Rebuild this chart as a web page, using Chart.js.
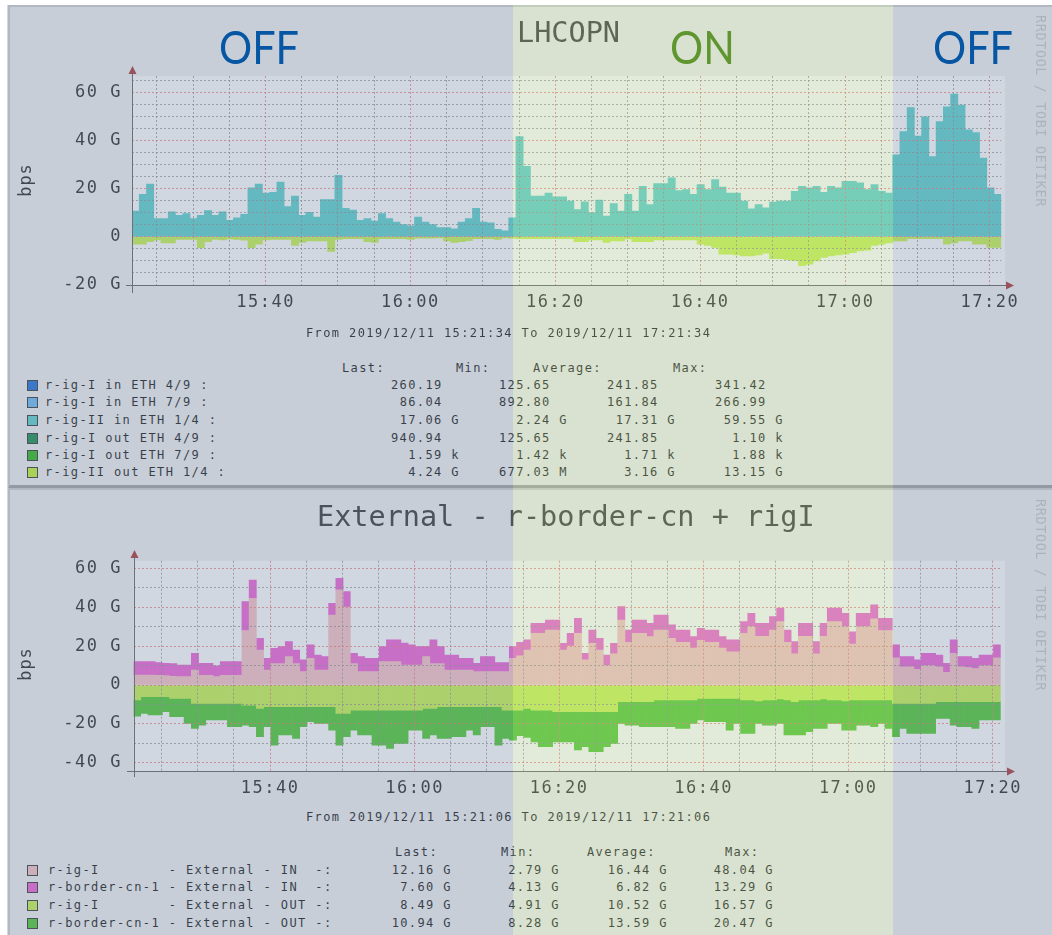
<!DOCTYPE html>
<html><head><meta charset="utf-8">
<script src="https://cdn.jsdelivr.net/npm/chart.js@4.4.1/dist/chart.umd.min.js"></script>
<style>
html,body{margin:0;padding:0}
body{width:1052px;height:935px;position:relative;overflow:hidden;background:#fff}
.panel{position:absolute;left:8px;width:1050px;background:#f0f0f0;box-sizing:border-box}
#p1{top:5px;height:483px;border-left:2px solid #cbcbcb;border-top:2px solid #cbcbcb;border-bottom:3px solid #999}
#p2{top:488px;height:450px;border-left:2px solid #cbcbcb;border-top:2px solid #cbcbcb}
canvas{position:absolute;left:0}
.tx{position:absolute;white-space:pre;font-family:"DejaVu Sans Mono",monospace;color:#000;line-height:1}
.lg{font-size:12px;letter-spacing:1.4px}
.ttl{font-size:28.5px;color:#222}
.ax{font-size:17px;letter-spacing:1px;color:#111}
.wm{font-size:13.5px;letter-spacing:0.6px;color:#c4c4c4}
.sw{position:absolute;width:9px;height:9px;border:1px solid #222}
.ov{position:absolute;top:5px;height:930px}
.big{position:absolute;font-family:Lato,"Open Sans",sans-serif;font-size:46px;line-height:1;white-space:pre;transform:scaleX(0.9);transform-origin:0 0}
</style></head>
<body>
<div class="panel" id="p1"></div>
<div class="panel" id="p2"></div>
<canvas id="c1" width="1052" height="330" style="top:0"></canvas>
<canvas id="c2" width="1052" height="320" style="top:490px"></canvas>
<div id="texts"></div>
<div class="ov" style="left:7px;width:506px;background:rgba(138,155,180,0.4)"></div>
<div class="ov" style="left:513px;width:380px;background:rgba(182,205,160,0.4)"></div>
<div class="ov" style="left:893px;width:159px;background:rgba(138,155,180,0.4)"></div>
<div id="labels"></div>
<script>
// ---------------- DATA ----------------
// minutes after 15:00
const topStart = 21 + 34/60;   // 15:21:34
const botStart = 21 + 6/60;    // 15:21:06

// x grid (minutes after 15:00) and labelled ticks
const xGridMinutes = [25,30,35,40,45,50,55,60,65,70,75,80,85,90,95,100,105,110,115,120,125,130,135,140];
const xLabelMinutes = [40,60,80,100,120,140];
const xLabelText = ['15:40','16:00','16:20','16:40','17:00','17:20'];

const topYGrid = [-20,-15,-10,-5,0,5,10,15,20,25,30,35,40,45,50,55,60,65];
const topYLabelValues = [-20,0,20,40,60];
const topYLabelText = ['-20 G','0','20 G','40 G','60 G'];

const botYGrid = [-40,-30,-20,-10,0,10,20,30,40,50,60];
const botYLabelValues = [-40,-20,0,20,40,60];
const botYLabelText = ['-40 G','-20 G','0','20 G','40 G','60 G'];

// Top graph: r-ig-II in ETH 1/4 (Gbps, 1-min steps)
const rigII_in_eth14 = [10.8,17.7,22,7.6,7.6,10.5,9,9.7,7.6,9,
11,9,10.5,6.9,8,9.4,20.4,22,18.3,18.6,
22.8,12.6,17,9,10.3,8.3,15.6,15.6,25.7,11.9,
11.2,6.9,7.6,6.6,9.7,7.6,6.2,5.2,4.6,8.3,
6.2,5.2,3.9,3.9,3.4,6.2,7.6,11.9,6.2,5.9,
3.2,2.6,8,41.8,29.4,17,17,18.3,16.7,16.7,
14.9,11.4,14.6,10,15.3,8.7,13.9,10.8,17.7,10.8,
21.1,13.5,22.2,22.2,24.6,19.3,19.7,17.7,21.8,19.7,
23.9,20.8,18.3,18.3,14.9,11.7,13.5,12.1,14.5,14.9,
14.9,19,21.1,20.4,21.1,18.6,21.1,20.4,23.2,23.2,
22.5,19.7,21.8,19,18.3,34.2,43.9,53.9,42,50,
33.5,48,54.2,59.5,54.9,44.6,43.4,32.8,20.4,17.7];
// Top graph: r-ig-II out ETH 1/4 (drawn negative)
const rigII_out_eth14 = [-3,-3,-2,-1.2,-2.5,-2.5,-1,-1,-1,-4.5,
-2,-1,-1.2,-0.8,-1,-1.3,-4.5,-3,-1.2,-1,
-1,-1,-3.5,-2.3,-1.7,-1.7,-1.7,-6,-1,-0.7,
-0.7,-0.7,-2,-2.3,-0.7,-0.7,-0.7,-0.7,-1,-0.5,
-0.5,-0.5,-0.4,-1.7,-2.3,-2,-1.5,-0.7,-0.7,-0.7,
-1,-0.4,-0.5,-0.7,-0.7,-0.7,-0.7,-0.7,-0.7,-0.7,
-0.7,-2,-2,-1.2,-1.2,-2.3,-1.7,-1.7,-0.8,-2,
-2,-2,-1.2,-1.2,-1.2,-1.2,-1.2,-1.2,-3,-3.5,
-4.4,-7.2,-7.2,-7.5,-7.9,-7.9,-7.5,-6.8,-9,-9,
-9.5,-9.9,-12,-11.3,-10,-8.5,-7.9,-7.5,-7.2,-6.5,
-5.8,-5.5,-3.5,-3,-2.5,-1.7,-1.7,-0.7,-0.7,-0.7,
-0.7,-0.7,-3,-2.5,-1.7,-1.7,-3,-3,-4.4,-4.4];

// Bottom graph: r-ig-I External IN
const rigI_ext_in = [5.1,5.1,5.1,5,4.8,4.5,4.3,4.3,7.7,5,
5,4.3,5,5,5,28,44.6,18,7.7,11,
11,14.6,11,6.9,13.7,7.7,7.7,36,48.9,40,
11,6.9,6.9,6.9,12,12,12,10.3,10.3,10.3,
14.6,11,11,7.7,7.7,7.7,7.7,6.9,6.9,6.9,
6.9,6.9,13.7,15,18,26.6,26.6,28.3,28.3,18,
20,26.6,12.9,21.4,18,10,16,33.4,22,26.6,
26.6,24.9,28.3,28.3,24,22,22,19,23,22,
22,19,17,17,26.6,30,25,25,28.3,32.6,
22,16,25,25,16,25,32.6,32.6,30,21,
30,30,34,28,28,14,9.4,9.4,8,10,
10,9.4,6.5,16.3,9.4,9,8.5,10,10,14];
// Bottom graph: r-border-cn-1 External IN (stacked on r-ig-I)
const border_ext_in = [6.9,6.9,6.9,6.5,6.3,6.5,6,6,8.6,6.1,
6.1,5.5,7,7,7,14.9,9.4,6,6,7.9,
8.7,7.7,7,6,6.9,7.7,6.9,6,6,8,
5.3,7.7,6.8,6.8,7.7,11.2,11.2,11.2,10.3,9.4,
5.1,12.2,8.7,7.7,7.7,6,6,4.2,7.7,7.7,
4.6,4.6,6,7,5.2,5.1,5.1,5.1,5.1,3.4,
6.6,7.7,3.4,6.9,6,5.4,5.4,6.9,6.3,6.8,
6.8,6.8,7.7,7.7,6.9,6.3,6.3,5.9,6.2,6.3,
6.3,5.9,6.2,6.2,6,6.9,6.7,6.7,6.9,6.9,
6.3,6.3,6.7,6.7,6.3,6.7,6.9,6.9,6.9,6.4,
6.9,6.9,7.2,6.3,6.3,6.6,5.2,5.2,4.9,6.3,
6.3,6,4.6,6.9,5.2,5.6,5.2,5.4,5.4,6.6];
// Bottom graph: r-ig-I External OUT (drawn negative)
const rigI_ext_out = [-7.7,-6,-6,-6,-6,-6.9,-6.9,-6.9,-9.4,-9.4,
-9.4,-9.4,-9.4,-9.4,-9.4,-10.3,-10.3,-12,-11.1,-11.1,
-11.1,-11.1,-11.1,-11.1,-11.1,-11.1,-11.1,-11.1,-14.6,-14.6,
-12.9,-12.9,-12.9,-12.9,-12.9,-12.9,-12.9,-12.9,-12.9,-12.9,
-12,-12,-11.1,-11.1,-11.1,-11.1,-11.1,-11.1,-11.1,-11.1,
-11.1,-12.9,-12.9,-12.9,-12,-12.9,-12.9,-12.9,-13.7,-13.7,
-13.7,-13.7,-13.7,-13.7,-13.7,-13.7,-13.7,-8.6,-8.6,-8.6,
-8.6,-8.6,-7.7,-7.7,-7.7,-7.7,-7.7,-7.7,-6.9,-6.9,
-6.9,-6.9,-6.9,-6.9,-7.7,-7.7,-8.2,-7.7,-7.7,-7.2,
-7.7,-8.6,-7.7,-7.7,-7.7,-7.2,-7.7,-7.7,-8.2,-7.7,
-7.7,-7.7,-7.7,-7.7,-7.7,-9.4,-9.4,-9.4,-9.4,-9.4,
-9.4,-8.6,-8.6,-8.6,-8.6,-8.6,-8.6,-8.6,-8.6,-8.6];
// Bottom graph: r-border-cn-1 External OUT (stacked below r-ig-I)
const border_ext_out = [-8.3,-8.6,-9.4,-9.4,-7.7,-9.4,-9.4,-12.8,-12.9,-11.2,
-8.6,-8.6,-8.6,-12,-12,-10.3,-11.1,-14.6,-10.3,-19.8,
-14.6,-14.6,-16.3,-10.3,-7.8,-8.6,-8.6,-12.1,-16.3,-12,
-10.3,-12.8,-12.8,-18,-18,-19.7,-17.1,-17.1,-10.3,-10.3,
-15.4,-13.7,-16.3,-16.3,-15.5,-15.5,-12.1,-14.6,-10.3,-10.3,
-19.8,-14.5,-15.4,-13.1,-15,-16.3,-18.8,-18.8,-15.5,-15.5,
-15.5,-19.7,-18,-20.6,-20.6,-18,-16.3,-11.1,-12,-12,
-12.8,-12.8,-13.7,-13.7,-13.7,-14.6,-14.6,-12,-11.1,-12,
-12,-12,-16.3,-12.8,-17.2,-17.2,-11.5,-12.9,-12.9,-12.5,
-18,-17.1,-18,-16.3,-14.6,-15.1,-12,-12,-15,-15.5,
-12.9,-12.9,-13.7,-12,-14.6,-17.2,-12.9,-15.5,-15.5,-15.5,
-15.5,-8.6,-8.6,-12,-12.8,-12.8,-13.7,-9.4,-9.4,-9.4];

// Legend texts
const topTitle = 'LHCOPN';
const topRange = 'From 2019/12/11 15:21:34 To 2019/12/11 17:21:34';
const topNames = ['r-ig-I in ETH 4/9 :','r-ig-I in ETH 7/9 :','r-ig-II in ETH 1/4 :','r-ig-I out ETH 4/9 :','r-ig-I out ETH 7/9 :','r-ig-II out ETH 1/4 :'];
const topLast = ['260.19  ','86.04  ','17.06 G','940.94  ','1.59 k','4.24 G'];
const topMin  = ['125.65  ','892.80  ','2.24 G','125.65  ','1.42 k','677.03 M'];
const topAvg  = ['241.85  ','161.84  ','17.31 G','241.85  ','1.71 k','3.16 G'];
const topMax  = ['341.42  ','266.99  ','59.55 G','1.10 k','1.88 k','13.15 G'];

const botTitle = 'External - r-border-cn + rigI';
const botRange = 'From 2019/12/11 15:21:06 To 2019/12/11 17:21:06';
const botNames = ['r-ig-I        - External - IN  -:','r-border-cn-1 - External - IN  -:','r-ig-I        - External - OUT -:','r-border-cn-1 - External - OUT -:'];
const botLast = ['12.16 G','7.60 G','8.49 G','10.94 G'];
const botMin  = ['2.79 G','4.13 G','4.91 G','8.28 G'];
const botAvg  = ['16.44 G','6.82 G','10.52 G','13.59 G'];
const botMax  = ['48.04 G','13.29 G','16.57 G','20.47 G'];

// ---------------- STYLE ----------------
const C_TEAL = '#4bcdc8', C_YG = '#c3f53c', C_TAN = '#f8bcbe', C_MAG = '#f050d2', C_DG = '#3ec51b';
const topSwatch = ['#0861d5','#5cb4f7','#4bcdc8','#00823a','#19b400','#c0f51e'];
const botSwatch = [C_TAN, C_MAG, C_YG, C_DG];
const MINOR = 'rgba(130,130,130,0.75)', MAJOR = 'rgba(235,105,105,0.8)';

// one-minute RRD step = one floating bar [base, base+value] covering [t0+i, t0+i+1]
function steps(t0, vals, base) {
  return vals.map((v, i) => {
    const b = base ? base[i] : 0;
    return {x: t0 + i + 0.5, y: [b, b + v]};
  });
}

const rrdDecor = {
  id: 'rrdDecor',
  beforeDraw(chart, args, o) {
    const ctx = chart.ctx, a = chart.chartArea;
    ctx.save();
    ctx.fillStyle = '#ffffff';
    ctx.fillRect(a.left, a.top, o.plotRight - a.left, a.bottom - a.top);
    ctx.restore();
    ctx.letterSpacing = '1.5px';
  },
  afterDraw(chart, args, o) {
    const ctx = chart.ctx, a = chart.chartArea;
    const xl = Math.round(a.left) + 0.5, yb = Math.round(a.bottom) + 0.5;
    ctx.save();
    ctx.strokeStyle = '#555'; ctx.lineWidth = 1; ctx.setLineDash([]);
    ctx.beginPath();
    ctx.moveTo(xl, o.yAxisBottom); ctx.lineTo(xl, o.arrowTop + 6);
    ctx.moveTo(o.xAxisLeft, yb); ctx.lineTo(o.arrowRight - 6, yb);
    ctx.stroke();
    ctx.fillStyle = '#a42222';
    ctx.beginPath(); ctx.moveTo(xl, o.arrowTop); ctx.lineTo(xl - 4, o.arrowTop + 8); ctx.lineTo(xl + 4, o.arrowTop + 8); ctx.closePath(); ctx.fill();
    ctx.beginPath(); ctx.moveTo(o.arrowRight, yb); ctx.lineTo(o.arrowRight - 8, yb - 4); ctx.lineTo(o.arrowRight - 8, yb + 4); ctx.closePath(); ctx.fill();
    ctx.restore();
  }
};

function xScale(min, max, height, pad) {
  return {
    type: 'linear', min: min, max: max, offset: false,
    afterBuildTicks: s => { s.ticks = xGridMinutes.map(v => ({value: v})); },
    afterFit: s => { s.height = height; },
    ticks: {
      autoSkip: false, maxRotation: 0, padding: pad, color: '#111',
      font: {family: 'DejaVu Sans Mono', size: 17},
      callback: v => { const k = xLabelMinutes.indexOf(v); return k >= 0 ? xLabelText[k] : ''; }
    },
    grid: { z: 1, offset: false, drawTicks: false, lineWidth: 1,
      color: c => xLabelMinutes.includes(c.tick.value) ? MAJOR : MINOR },
    border: { display: false, dash: [2, 2] }
  };
}
function yScale(min, max, grid, lv, lt, width, pad) {
  return {
    type: 'linear', min: min, max: max,
    afterBuildTicks: s => { s.ticks = grid.map(v => ({value: v})); },
    afterFit: s => { s.width = width; },
    ticks: {
      autoSkip: false, padding: pad, color: '#111',
      font: {family: 'DejaVu Sans Mono', size: 17},
      callback: v => { const k = lv.indexOf(v); return k >= 0 ? lt[k] : ''; }
    },
    grid: { z: 1, drawTicks: false, lineWidth: 1,
      color: c => lv.includes(c.tick.value) ? MAJOR : MINOR },
    border: { display: false, dash: [2, 2] }
  };
}
function ds(label, data, color) {
  return { label: label, data: data, backgroundColor: color, borderWidth: 0,
    barPercentage: 1, categoryPercentage: 1, grouped: false, borderSkipped: false };
}

new Chart(document.getElementById('c1'), {
  type: 'bar',
  data: { datasets: [
    ds('r-ig-II in ETH 1/4', steps(topStart, rigII_in_eth14), C_TEAL),
    ds('r-ig-II out ETH 1/4', steps(topStart, rigII_out_eth14), C_YG)
  ]},
  options: {
    responsive: false, animation: false, devicePixelRatio: 1,
    layout: { padding: { left: 0, right: 50.7, top: 76, bottom: 0 } },
    plugins: { legend: {display: false}, tooltip: {enabled: false},
      rrdDecor: { plotRight: 1005, yAxisBottom: 293, arrowTop: 66, xAxisLeft: 126, arrowRight: 1014 } },
    scales: {
      x: xScale(topStart, topStart + 120, 45, 7),
      y: yScale(-20, 67, topYGrid, topYLabelValues, topYLabelText, 132, 10)
    }
  },
  plugins: [rrdDecor]
});

// RRD STACK: r-border-cn-1 areas sit on top of (IN) / below (OUT) the r-ig-I areas
new Chart(document.getElementById('c2'), {
  type: 'bar',
  data: { datasets: [
    ds('r-ig-I - External - IN', steps(botStart, rigI_ext_in), C_TAN),
    ds('r-border-cn-1 - External - IN', steps(botStart, border_ext_in, rigI_ext_in), C_MAG),
    ds('r-ig-I - External - OUT', steps(botStart, rigI_ext_out), C_YG),
    ds('r-border-cn-1 - External - OUT', steps(botStart, border_ext_out, rigI_ext_out), C_DG)
  ]},
  options: {
    responsive: false, animation: false, devicePixelRatio: 1,
    layout: { padding: { left: 0, right: 51.3, top: 70.7, bottom: 0 } },
    plugins: { legend: {display: false}, tooltip: {enabled: false},
      rrdDecor: { plotRight: 1005, yAxisBottom: 287, arrowTop: 60, xAxisLeft: 127, arrowRight: 1015 } },
    scales: {
      x: xScale(botStart, botStart + 120, 39, 7),
      y: yScale(-44.2, 63.9, botYGrid, botYLabelValues, botYLabelText, 133.5, 11.5)
    }
  },
  plugins: [rrdDecor]
});

// ---------------- TEXT ----------------
const T = document.getElementById('texts');
function txt(parent, s, x, y, cls, align, rot) {
  const d = document.createElement('div');
  d.className = 'tx ' + cls;
  d.textContent = s;
  d.style.left = x + 'px'; d.style.top = y + 'px';
  const tx = align === 'r' ? '-100%' : align === 'c' ? '-50%' : '0';
  d.style.transform = 'translate(' + tx + ',-50%)' + (rot ? ' rotate(' + rot + 'deg)' : '');
  parent.appendChild(d);
  return d;
}
function sw(y, color) {
  const d = document.createElement('div');
  d.className = 'sw'; d.style.left = '27px'; d.style.top = (y - 5) + 'px'; d.style.background = color;
  T.appendChild(d);
}
// titles
txt(T, topTitle, 517, 32.5, 'ttl', 'l');
txt(T, botTitle, 317, 517, 'ttl', 'l');
// axis labels
txt(T, 'bps', 25, 180, 'ax', 'c', -90);
txt(T, 'bps', 25, 664, 'ax', 'c', -90);
txt(T, 'RRDTOOL / TOBI OETIKER', 1040, 111, 'wm', 'c', 90);
txt(T, 'RRDTOOL / TOBI OETIKER', 1040, 595, 'wm', 'c', 90);
// top legend
txt(T, topRange, 306, 333, 'lg', 'l');
txt(T, 'Last:', 342, 368, 'lg', 'l'); txt(T, 'Min:', 456, 368, 'lg', 'l');
txt(T, 'Average:', 533, 368, 'lg', 'l'); txt(T, 'Max:', 673, 368, 'lg', 'l');
const topRows = [385, 402, 420, 437.5, 455, 472];
topNames.forEach((n, i) => {
  const y = topRows[i];
  sw(y, topSwatch[i]);
  txt(T, n, 45, y, 'lg', 'l');
  txt(T, topLast[i], 460, y, 'lg', 'r');
  txt(T, topMin[i], 568, y, 'lg', 'r');
  txt(T, topAvg[i], 676, y, 'lg', 'r');
  txt(T, topMax[i], 784, y, 'lg', 'r');
});
// bottom legend
txt(T, botRange, 306, 817, 'lg', 'l');
txt(T, 'Last:', 395, 852, 'lg', 'l'); txt(T, 'Min:', 501, 852, 'lg', 'l');
txt(T, 'Average:', 587, 852, 'lg', 'l'); txt(T, 'Max:', 725, 852, 'lg', 'l');
const botRows = [869.5, 887, 904.5, 922.5];
botNames.forEach((n, i) => {
  const y = botRows[i];
  sw(y, botSwatch[i]);
  txt(T, n, 48, y, 'lg', 'l');
  txt(T, botLast[i], 452, y, 'lg', 'r');
  txt(T, botMin[i], 560, y, 'lg', 'r');
  txt(T, botAvg[i], 668, y, 'lg', 'r');
  txt(T, botMax[i], 774, y, 'lg', 'r');
});
// OFF / ON annotations
const L = document.getElementById('labels');
function big(s, x, color) {
  const d = document.createElement('div');
  d.className = 'big'; d.textContent = s; d.style.color = color;
  d.style.left = x + 'px'; d.style.top = '24px';
  L.appendChild(d);
}
big('OFF', 219, '#0756a3');
big('ON', 670, '#5f9630');
big('OFF', 933, '#0756a3');
</script>
</body></html>
